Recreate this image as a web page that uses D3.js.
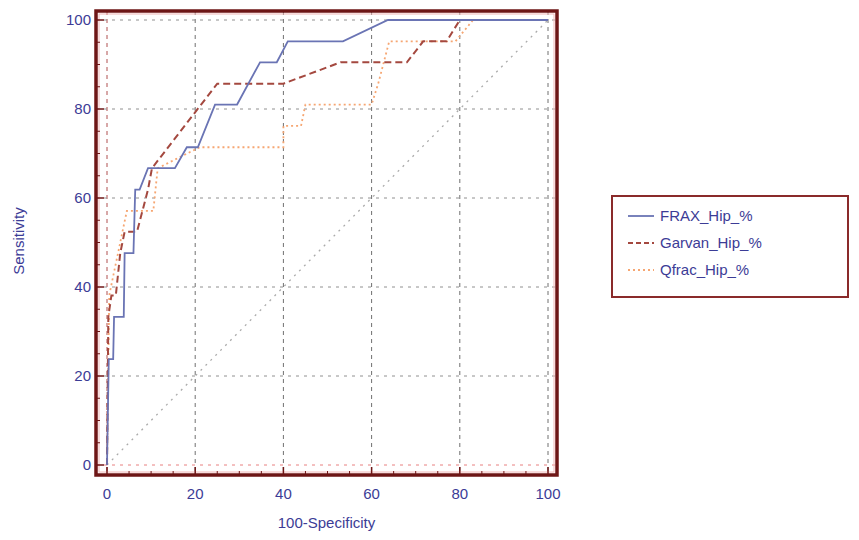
<!DOCTYPE html>
<html>
<head>
<meta charset="utf-8">
<script src="https://cdn.jsdelivr.net/npm/d3@7"></script>
<style>
  body { margin: 0; background: #fff; }
  text { font-family: "Liberation Sans", Arial, sans-serif; }
</style>
</head>
<body>
<div id="chart"></div>
<script>
// ROC curve points, [100-Specificity, Sensitivity]
var fraxHip = [[0,0],[0.4,23.8],[1.4,23.8],[1.6,33.3],[3.8,33.3],[4,47.6],[6,47.6],[6.4,61.9],[7.4,61.9],[9.3,66.7],[15.4,66.7],[18.1,71.4],[20.6,71.4],[24.5,81],[29.5,81],[34.7,90.5],[38.5,90.5],[41,95.2],[53.5,95.2],[63.7,100],[100,100]];
var garvanHip = [[0,0],[0.3,33.3],[1,38.1],[2,38.1],[3,47.6],[4,52.4],[6.8,52.4],[9.3,61.9],[10.2,66.7],[25,85.7],[38,85.7],[40,85.7],[53,90.5],[68,90.5],[71.7,95.2],[77,95.2],[80,100],[100,100]];
var qfracHip = [[0,0],[0.5,38.1],[1.5,42.9],[2.5,47.6],[3.5,52.4],[4.5,57.1],[10.5,57.1],[11.5,66.7],[21,71.4],[40,71.4],[40,76.2],[44,76.2],[45,81],[60,81],[61.5,85.7],[64,95.2],[79,95.2],[83,100],[100,100]];
var diagonal = [[0,0],[100,100]];

var seriesNames = ["FRAX_Hip_%", "Garvan_Hip_%", "Qfrac_Hip_%"];
var tickValues = [0, 20, 40, 60, 80, 100];
var minorTicks = d3.range(0, 101, 5);

var svgWidth = 859;
var svgHeight = 540;

// frame of the plot in pixels
var frame = { left: 96, right: 557, top: 11, bottom: 475 };

var svg = d3.select("#chart")
    .append("svg")
    .attr("width", svgWidth)
    .attr("height", svgHeight);

var xScale = d3.scaleLinear().domain([0, 100]).range([107, 548]);
var yScale = d3.scaleLinear().domain([0, 100]).range([465, 20]);

var labelColor = "#3c3c96";
var frameColor = "#6e1616";

// grid lines
var grid = svg.append("g");
grid.selectAll("line.vg")
    .data(tickValues)
    .enter()
    .append("line")
    .attr("x1", d => xScale(d))
    .attr("x2", d => xScale(d))
    .attr("y1", frame.top)
    .attr("y2", frame.bottom)
    .attr("stroke", d => d === 0 ? "#b05050" : "#707070")
    .attr("stroke-width", 1)
    .attr("stroke-dasharray", "4,4");

grid.selectAll("line.hg")
    .data(tickValues)
    .enter()
    .append("line")
    .attr("x1", frame.left)
    .attr("x2", frame.right)
    .attr("y1", d => yScale(d))
    .attr("y2", d => yScale(d))
    .attr("stroke", d => d === 0 ? "#e88080" : "#909090")
    .attr("stroke-width", 1)
    .attr("stroke-dasharray", "3,5");

var line = d3.line()
    .x(d => xScale(d[0]))
    .y(d => yScale(d[1]));

// reference diagonal
svg.append("path")
    .attr("d", line(diagonal))
    .attr("fill", "none")
    .attr("stroke", "#aaa")
    .attr("stroke-width", 1.3)
    .attr("stroke-dasharray", "2,5");

var series = [
    { name: seriesNames[0], data: fraxHip, color: "#6a74b4", dash: null, width: 1.8 },
    { name: seriesNames[1], data: garvanHip, color: "#a4483f", dash: "7,4", width: 2 },
    { name: seriesNames[2], data: qfracHip, color: "#f6a672", dash: "2,3", width: 1.8 }
];

// draw in reverse so FRAX is on top
series.slice().reverse().forEach(function(s) {
    svg.append("path")
        .attr("d", line(s.data))
        .attr("fill", "none")
        .attr("stroke", s.color)
        .attr("stroke-width", s.width)
        .attr("stroke-dasharray", s.dash);
});

// frame
svg.append("rect")
    .attr("x", frame.left)
    .attr("y", frame.top)
    .attr("width", frame.right - frame.left)
    .attr("height", frame.bottom - frame.top)
    .attr("fill", "none")
    .attr("stroke", frameColor)
    .attr("stroke-width", 3.5);
svg.append("rect")
    .attr("x", frame.left + 3)
    .attr("y", frame.top + 3)
    .attr("width", frame.right - frame.left - 6)
    .attr("height", frame.bottom - frame.top - 6)
    .attr("fill", "none")
    .attr("stroke", "#f2b8b8")
    .attr("stroke-width", 1);

// ticks (inward)
svg.selectAll("line.xt")
    .data(minorTicks)
    .enter()
    .append("line")
    .attr("x1", d => xScale(d))
    .attr("x2", d => xScale(d))
    .attr("y1", frame.bottom)
    .attr("y2", d => frame.bottom - (d % 20 === 0 ? 8 : 4))
    .attr("stroke", frameColor)
    .attr("stroke-width", d => d % 20 === 0 ? 1.5 : 1);

svg.selectAll("line.yt")
    .data(minorTicks)
    .enter()
    .append("line")
    .attr("y1", d => yScale(d))
    .attr("y2", d => yScale(d))
    .attr("x1", frame.left)
    .attr("x2", d => frame.left + (d % 20 === 0 ? 8 : 4))
    .attr("stroke", frameColor)
    .attr("stroke-width", d => d % 20 === 0 ? 1.5 : 1);

// tick labels
svg.selectAll("text.xl")
    .data(tickValues)
    .enter()
    .append("text")
    .attr("x", d => xScale(d))
    .attr("y", 499)
    .attr("text-anchor", "middle")
    .attr("font-size", 15)
    .attr("fill", labelColor)
    .text(d => d);

svg.selectAll("text.yl")
    .data(tickValues)
    .enter()
    .append("text")
    .attr("x", 91)
    .attr("y", d => yScale(d) + 5)
    .attr("text-anchor", "end")
    .attr("font-size", 15)
    .attr("fill", labelColor)
    .text(d => d);

// axis titles
svg.append("text")
    .attr("x", (frame.left + frame.right) / 2)
    .attr("y", 528)
    .attr("text-anchor", "middle")
    .attr("font-size", 15)
    .attr("fill", labelColor)
    .text("100-Specificity");

svg.append("text")
    .attr("transform", "translate(24, 241) rotate(-90)")
    .attr("text-anchor", "middle")
    .attr("font-size", 15)
    .attr("fill", labelColor)
    .text("Sensitivity");

// legend
var legend = svg.append("g").attr("transform", "translate(612, 196)");
legend.append("rect")
    .attr("width", 236)
    .attr("height", 101)
    .attr("fill", "#fff")
    .attr("stroke", "#8a2a2a")
    .attr("stroke-width", 2);

series.forEach(function(s, i) {
    var yy = 20 + i * 27;
    legend.append("line")
        .attr("x1", 16)
        .attr("x2", 42)
        .attr("y1", yy)
        .attr("y2", yy)
        .attr("stroke", s.color)
        .attr("stroke-width", s.width)
        .attr("stroke-dasharray", s.dash ? (i === 1 ? "5,3" : "2,3") : null);
    legend.append("text")
        .attr("x", 48)
        .attr("y", yy + 5)
        .attr("font-size", 15)
        .attr("fill", labelColor)
        .text(s.name);
});
</script>
</body>
</html>
